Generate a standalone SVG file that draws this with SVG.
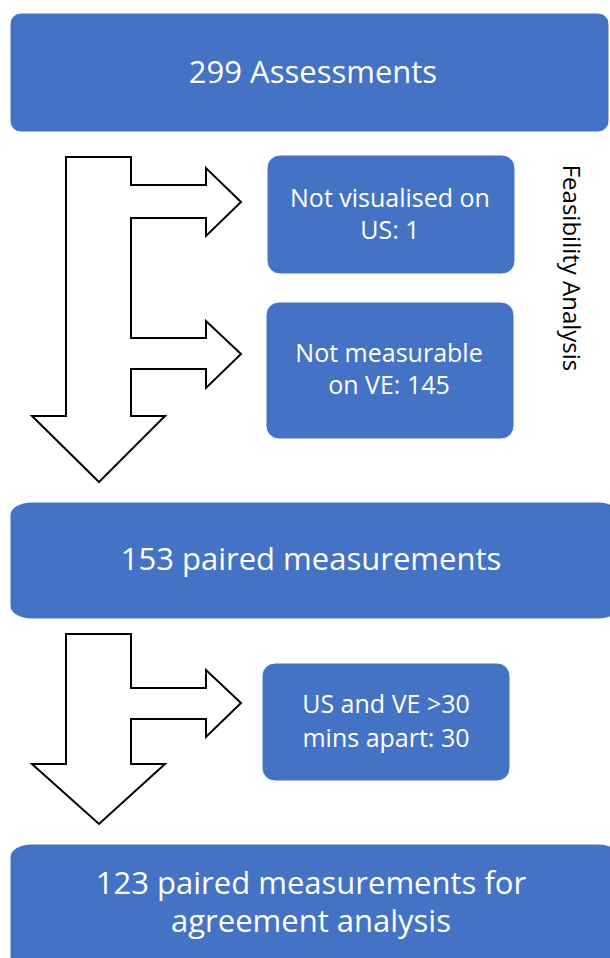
<svg xmlns="http://www.w3.org/2000/svg" width="610" height="958" viewBox="0 0 610 958">
<style>
.box{fill:#4472C4;stroke:#ffffff;stroke-width:1}
.t{font-family:"Open Sans","Liberation Sans",sans-serif;fill:#ffffff;text-anchor:middle}
.big{font-size:31px}
.small{font-size:25px}
.arrow{fill:#ffffff;stroke:#000000;stroke-width:2;stroke-linejoin:miter}
.side{font-family:"Open Sans","Liberation Sans",sans-serif;font-size:24px;fill:#000000;text-anchor:middle}
</style>
<rect width="610" height="958" fill="#ffffff"/>
<g id="connectors">
<path class="arrow" d="M66,157 L131,157 L131,185 L206,185 L206,168 L241,202 L206,236 L206,218 L131,218 L131,338 L206,338 L206,321 L241,354 L206,388 L206,369 L131,369 L131,416 L165,416 L99,482 L32,416 L66,416 Z"/>
<path class="arrow" d="M66,634 L131,634 L131,688 L206,688 L206,670 L241,703 L206,737 L206,719 L131,719 L131,764 L165,764 L99,824 L32,764 L66,764 Z"/>
</g>
<g id="n-assessments">
<rect class="box" x="10" y="13" width="599" height="119" rx="11" ry="11"/>
<text class="t big" x="313" y="83">299 Assessments</text>
</g>
<g id="n-notvis">
<rect class="box" x="267" y="155" width="248" height="119" rx="13" ry="13"/>
<text class="t small" x="390" y="207">Not visualised on</text>
<text class="t small" x="390" y="239">US: 1</text>
</g>
<g id="n-notmeas">
<rect class="box" x="266" y="302" width="248" height="137" rx="13" ry="13"/>
<text class="t small" x="389" y="362">Not measurable</text>
<text class="t small" x="389" y="394">on VE: 145</text>
</g>
<g id="n-feasibility">
<text class="side" transform="translate(563,268) rotate(90)">Feasibility Analysis</text>
</g>
<g id="n-paired153">
<rect class="box" x="10" y="502" width="610" height="117" rx="22" ry="13"/>
<text class="t big" x="311" y="570">153 paired measurements</text>
</g>
<g id="n-apart">
<rect class="box" x="262" y="663" width="248" height="118" rx="13" ry="13"/>
<text class="t small" x="386" y="713">US and VE &gt;30</text>
<text class="t small" x="386" y="747">mins apart: 30</text>
</g>
<g id="n-paired123">
<rect class="box" x="10" y="844" width="610" height="130" rx="22" ry="13"/>
<text class="t big" x="311" y="894">123 paired measurements  for</text>
<text class="t big" x="311" y="932">agreement analysis</text>
</g>
</svg>
